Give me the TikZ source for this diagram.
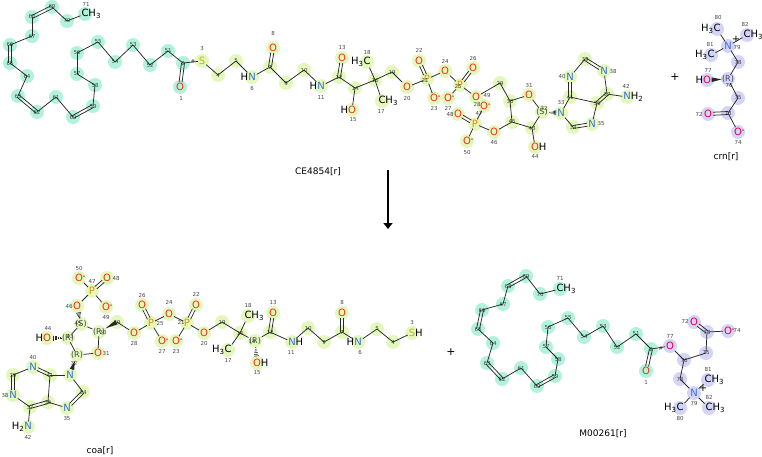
\documentclass[tikz,border=0pt]{standalone}
\usepackage{fontspec}
\setmainfont{DejaVu Sans}
\usetikzlibrary{calc,arrows.meta}
\pgfdeclarelayer{bg}
\pgfsetlayers{bg,main}
\definecolor{ored}{RGB}{240,45,20}
\definecolor{ocrn}{RGB}{225,0,60}
\definecolor{nblue}{RGB}{60,110,210}
\definecolor{porange}{RGB}{230,140,0}
\definecolor{syellow}{RGB}{185,185,0}
\definecolor{hlgreen}{RGB}{228,248,190}
\definecolor{hlaqua}{RGB}{178,242,218}
\definecolor{hllav}{RGB}{212,212,248}
\definecolor{bondc}{RGB}{40,40,40}
\definecolor{numc}{RGB}{70,70,70}
\newcommand\Ox{\textcolor{ored}{O}}
\newcommand\Oc{\textcolor{ocrn}{O}}
\newcommand\Nx{\textcolor{nblue}{N}}
\newcommand\Px{\textcolor{porange}{P}}
\newcommand\Sx{\textcolor{syellow}{S}}
\newcommand\mn{\rlap{\textsuperscript{-}}}
\newcommand\hlc{hlgreen}
\newcommand\catom[4]{\coordinate (#1) at (#2,#3);
  \begin{pgfonlayer}{bg}\fill[fill=\hlc] (#2,#3) circle (7pt);\end{pgfonlayer}
  \node[num] (#1n) at (#2,#3) {#4};}
\newcommand\hatom[7]{\node[atom] (#1) at (#2,#3) {#4};
  \begin{pgfonlayer}{bg}\fill[fill=\hlc] (#2,#3) circle (7pt);\end{pgfonlayer}
  \node[num] (#1n) at (#6,#7) {#5};}
\newcommand\satom[7]{\node[stereo] (#1) at (#2,#3) {#5};
  \begin{pgfonlayer}{bg}\fill[fill=\hlc] (#2,#3) circle (7pt);\end{pgfonlayer}
  \node[num] (#1n) at (#6,#7) {#4};}
\newcommand\dbl[4]{%
  \draw[bond,shorten <=#3,shorten >=#4] ($(#1)!1.5pt!90:(#2)$) -- ($(#2)!1.5pt!-90:(#1)$);
  \draw[bond,shorten <=#3,shorten >=#4] ($(#1)!1.5pt!-90:(#2)$) -- ($(#2)!1.5pt!90:(#1)$);}
\newcommand\hwedge[4]{%
  \foreach \k in {0,...,5}{%
    \pgfmathsetmacro\ff{#3+(#4-#3)*\k/5}%
    \pgfmathsetmacro\ww{0.4+2.1*\k/5}%
    \draw[draw=bondc,line width=0.6pt] ($($(#1)!\ff!(#2)$)!\ww pt!90:(#2)$) -- ($($(#1)!\ff!(#2)$)!\ww pt!-90:(#2)$);
  }}
\newcommand\swedge[4]{%
  \fill[bondc] ($(#1)!#3!(#2)$) -- ($($(#1)!#4!(#2)$)!2.3pt!90:(#1)$) -- ($($(#1)!#4!(#2)$)!2.3pt!-90:(#1)$) -- cycle;}
\tikzset{
  atom/.style={inner sep=0.8pt, font=\fontsize{10}{10}\selectfont},
  num/.style={inner sep=0pt, font=\fontsize{5.5}{6}\selectfont, text=numc},
  stereo/.style={inner sep=0.5pt, font=\fontsize{8}{8}\selectfont, text=numc},
  bond/.style={draw=bondc, line width=0.75pt},
  title/.style={font=\fontsize{9}{10}\selectfont},
  plus/.style={font=\fontsize{11}{11}\selectfont},
}
\begin{document}
\begin{tikzpicture}[x=1pt,y=-1pt]
\useasboundingbox (0,0) rectangle (762,457);
% ================= TOP: CE4854 =================
\renewcommand\hlc{hlaqua}
\hatom{a71}{85}{14}{C\rlap{H\textsubscript{3}}}{71}{86}{4}
\catom{a70}{67}{21}{70}
\catom{a69}{52}{7}{69}
\catom{a68}{32}{17}{68}
\catom{a67}{32}{36}{67}
\catom{a66}{10}{45}{66}
\catom{a65}{10}{63}{65}
\catom{a64}{27}{76}{64}
\catom{a63}{18}{96}{63}
\catom{a62}{37}{112}{62}
\catom{a61}{56}{97}{61}
\catom{a60}{73}{117}{60}
\catom{a59}{93}{106}{59}
\catom{a58}{95}{85}{58}
\catom{a57}{77}{74}{57}
\catom{a56}{77}{53}{56}
\catom{a55}{98}{42}{55}
\catom{a54}{115}{62}{54}
\catom{a53}{133}{45}{53}
\catom{a52}{150}{65}{52}
\catom{a51}{168}{51}{51}
\catom{a2}{183}{63}{2}
\hatom{a1}{180}{87}{\Ox}{1}{181}{98}
\node[num] (ahash) at (193,62) {\#};
\renewcommand\hlc{hlgreen}
\hatom{a3}{202}{61}{\Sx}{3}{202}{49}
\catom{a4}{218}{75}{4}
\catom{a5}{236}{61}{5}
\hatom{a6}{252}{77}{\llap{H}\Nx}{6}{252}{88}
\catom{a7}{270}{67}{7}
\hatom{a8}{273}{48}{\Ox}{8}{273}{34}
\catom{a9}{286}{83}{9}
\catom{a10}{304}{70}{10}
\hatom{a11}{321}{86}{\llap{H}\Nx}{11}{321}{97}
\catom{a12}{339}{77}{12}
\hatom{a13}{342}{58}{\Ox}{13}{342}{47}
\catom{a14}{355}{88}{14}
\hatom{a15}{352}{110}{\llap{H}\Ox}{15}{353}{120}
\catom{a16}{375}{80}{16}
\hatom{a18}{367}{62}{\llap{H\textsubscript{3}}C}{18}{367}{53}
\hatom{a17}{382}{101}{C\rlap{H\textsubscript{3}}}{17}{381}{111}
\catom{a19}{392}{72}{19}
\hatom{a20}{407}{87}{\Ox}{20}{407}{98}
\hatom{a21}{427}{79}{\Px}{21}{425}{80}
\hatom{a22}{419}{61}{\Ox}{22}{419}{50}
\hatom{a23}{434}{98}{\Ox\mn}{23}{434}{108}
\hatom{a24}{445}{71}{\Ox}{24}{445}{61}
\hatom{a25}{460}{85}{\Px}{25}{458}{86}
\hatom{a26}{473}{68}{\Ox}{26}{473}{58}
\hatom{a27}{448}{98}{\Ox\mn}{27}{448}{108}
\hatom{a28}{476}{97}{\Ox}{28}{477}{104}
\hatom{a49}{484}{106}{\Ox\mn}{49}{487}{95}
\catom{a29}{500}{83}{29}
\catom{a30}{510}{101}{30}
\hatom{a31}{529}{95}{\Ox}{31}{529}{85}
\satom{a32}{542}{112}{32}{(S)}{544}{108}
\hatom{a33}{561}{113}{\Nx}{33}{561}{102}
\catom{a34}{573}{127}{34}
\hatom{a35}{592}{124}{\Nx}{35}{601}{123}
\catom{a36}{597}{103}{36}
\catom{a37}{607}{94}{37}
\hatom{a38}{604}{71}{\Nx}{38}{613}{71}
\catom{a39}{585}{59}{39}
\hatom{a40}{570}{77}{\Nx}{40}{562}{76}
\catom{a41}{570}{97}{41}
\hatom{a42}{627}{97}{\Nx\rlap{H\textsubscript{2}}}{42}{626}{86}
\catom{a43}{532}{128}{43}
\hatom{a44}{535}{147}{\Ox\rlap{H}}{44}{535}{156}
\catom{a45}{512}{122}{45}
\hatom{a46}{494}{132}{\Ox}{46}{494}{142}
\hatom{a47}{475}{124}{\Px}{47}{479}{113}
\hatom{a48}{458}{114}{\Ox}{48}{450}{114}
\hatom{a50}{467}{141}{\Ox\mn}{50}{467}{152}
\foreach \u/\v in {a71/a70,a70/a69,a68/a67,a67/a66,a65/a64,a64/a63,a62/a61,a61/a60,a59/a58,a58/a57,a57/a56,a56/a55,a55/a54,a54/a53,a53/a52,a52/a51,a51/a2,a2/a3,a3/a4,a4/a5,a5/a6,a6/a7,a7/a9,a9/a10,a10/a11,a11/a12,a12/a14,a14/a15,a14/a16,a16/a18,a16/a17,a16/a19,a19/a20,a20/a21,a21/a23,a21/a24,a24/a25,a25/a27,a25/a28,a28/a29,a29/a30,a30/a31,a31/a32,a32/a43,a43/a45,a45/a30,a43/a44,a45/a46,a46/a47,a47/a49,a47/a50,a33/a34,a35/a36,a36/a41,a41/a33,a39/a40,a37/a38,a37/a42}
  \draw[bond] (\u) -- (\v);
\dbl{a68}{a69}{0pt}{0pt}
\dbl{a65}{a66}{0pt}{0pt}
\dbl{a62}{a63}{0pt}{0pt}
\dbl{a59}{a60}{0pt}{0pt}
\dbl{a2}{a1}{0pt}{5pt}
\dbl{a7}{a8}{0pt}{5pt}
\dbl{a12}{a13}{0pt}{5pt}
\dbl{a21}{a22}{5pt}{5pt}
\dbl{a25}{a26}{5pt}{5pt}
\dbl{a47}{a48}{5pt}{5pt}
\dbl{a34}{a35}{0pt}{5pt}
\dbl{a36}{a37}{0pt}{0pt}
\dbl{a41}{a40}{0pt}{5pt}
\dbl{a39}{a38}{0pt}{5pt}
\hwedge{a32}{a33}{0.4}{0.72}
% ================= TOP: crn =================
\renewcommand\hlc{hllav}
\hatom{c80}{717}{29}{\llap{H\textsubscript{3}}C}{80}{718}{18}
\hatom{c82}{747}{35}{C\rlap{H\textsubscript{3}}}{82}{745}{25}
\hatom{c79}{728}{46}{\Nx}{79}{737}{47}
\node[atom] (c79p) at (736,39) {+};
\hatom{c81}{711}{55}{\llap{H\textsubscript{3}}C}{81}{710}{45}
\catom{c78}{738}{62}{78}
\satom{c76}{728}{79}{76}{(R)}{729}{85}
\hatom{c77}{707}{80}{\llap{H}\Oc}{77}{708}{70}
\catom{c75}{738}{98}{75}
\catom{c73}{728}{113}{73}
\hatom{c72}{708}{114}{\Oc}{72}{699}{114}
\hatom{c74}{738}{132}{\Oc\mn}{74}{738}{142}
\foreach \u/\v in {c80/c79,c82/c79,c81/c79,c79/c78,c78/c76,c76/c75,c75/c73,c73/c74}
  \draw[bond] (\u) -- (\v);
\dbl{c73}{c72}{0pt}{5pt}
\swedge{c76}{c77}{0.3}{0.78}
% ================= labels / arrow =================
\node[title] (lce) at (318,172) {CE4854[r]};
\node[title] (lcrn) at (726,157) {crn[r]};
\node[plus] (plus1) at (675,77) {+};
\coordinate (arS) at (388,170);
\coordinate (arE) at (388,229);
\draw[line width=2.6pt,-{Triangle[width=9pt,length=6pt]}] (arS) -- (arE);
% ================= BOTTOM: coa =================
\renewcommand\hlc{hlgreen}
\hatom{b50}{79}{278}{\Ox\mn}{50}{79}{268}
\hatom{b48}{107}{278}{\Ox}{48}{116}{278}
\hatom{b47}{92}{291}{\Px}{47}{92}{281}
\hatom{b46}{77}{306}{\Ox}{46}{69}{306}
\hatom{b49}{106}{307}{\Ox\mn}{49}{106}{317}
\satom{b45}{81}{324}{45}{(S)}{78}{324}
\satom{b30}{99}{332}{30}{(R)}{103}{332}
\catom{b29}{117}{322}{29}
\hatom{b28}{134}{333}{\Ox}{28}{134}{343}
\satom{b43}{68}{338}{43}{(R)}{70}{336}
\hatom{b44}{47}{338}{\llap{H}\Ox}{44}{48}{328}
\hatom{b31}{98}{353}{\Ox}{31}{106}{353}
\satom{b32}{77}{355}{32}{(R)}{74}{363}
\node[atom] (b33) at (70,375) {\Nx};
\begin{pgfonlayer}{bg}\fill[fill=\hlc] (70,375) circle (7pt);\end{pgfonlayer}
\catom{b34}{83}{392}{34}
\hatom{b35}{67}{408}{\Nx}{35}{67}{418}
\catom{b36}{48}{402}{36}
\catom{b41}{50}{375}{41}
\hatom{b40}{33}{367}{\Nx}{40}{33}{357}
\catom{b39}{13}{375}{39}
\hatom{b38}{13}{395}{\Nx}{38}{5}{395}
\catom{b37}{30}{407}{37}
\hatom{b42}{28}{427}{\llap{H\textsubscript{2}}\Nx}{42}{28}{437}
\hatom{b25}{151}{323}{\Px}{25}{160}{323}
\hatom{b26}{142}{305}{\Ox}{26}{142}{295}
\hatom{b27}{162}{341}{\Ox\mn}{27}{162}{351}
\hatom{b24}{169}{314}{\Ox}{24}{169}{302}
\hatom{b21}{187}{323}{\Px}{21}{181}{322}
\hatom{b22}{196}{305}{\Ox}{22}{196}{294}
\hatom{b23}{176}{341}{\Ox\mn}{23}{176}{351}
\hatom{b20}{204}{333}{\Ox}{20}{204}{343}
\catom{b19}{222}{322}{19}
\catom{b16}{240}{333}{16}
\hatom{b18}{248}{316}{C\rlap{H\textsubscript{3}}}{18}{248}{305}
\hatom{b17}{228}{350}{\llap{H\textsubscript{3}}C}{17}{228}{360}
\satom{b14}{255}{341}{14}{(R)}{252}{341}
\hatom{b15}{257}{363}{\Ox\rlap{H}}{15}{257}{373}
\catom{b12}{270}{332}{12}
\hatom{b13}{273}{313}{\Ox}{13}{273}{302}
\hatom{b11}{292}{342}{\Nx\rlap{H}}{11}{291}{352}
\catom{b10}{308}{328}{10}
\catom{b9}{324}{342}{9}
\catom{b7}{342}{332}{7}
\hatom{b8}{342}{313}{\Ox}{8}{342}{302}
\hatom{b6}{358}{342}{\llap{H}\Nx}{6}{360}{352}
\catom{b5}{377}{329}{5}
\catom{b4}{393}{342}{4}
\hatom{b3}{412}{333}{\Sx\rlap{H}}{3}{412}{322}
\foreach \u/\v in {b47/b50,b47/b46,b47/b49,b45/b30,b45/b43,b43/b32,b32/b31,b31/b30,b29/b28,b28/b25,b25/b27,b25/b24,b24/b21,b21/b23,b21/b20,b20/b19,b19/b16,b16/b18,b16/b17,b16/b14,b14/b12,b12/b11,b11/b10,b10/b9,b9/b7,b7/b6,b6/b5,b5/b4,b4/b3,b33/b34,b35/b36,b36/b41,b41/b33,b39/b40,b37/b38,b37/b42}
  \draw[bond] (\u) -- (\v);
\dbl{b47}{b48}{5pt}{5pt}
\dbl{b25}{b26}{5pt}{5pt}
\dbl{b21}{b22}{5pt}{5pt}
\dbl{b12}{b13}{0pt}{5pt}
\dbl{b7}{b8}{0pt}{5pt}
\dbl{b34}{b35}{0pt}{5pt}
\dbl{b36}{b37}{0pt}{0pt}
\dbl{b41}{b40}{0pt}{5pt}
\dbl{b39}{b38}{0pt}{5pt}
\swedge{b30}{b29}{0.35}{0.97}
\hwedge{b45}{b46}{0.3}{0.62}
\hwedge{b43}{b44}{0.3}{0.7}
\swedge{b32}{b33}{0.3}{0.72}
\hwedge{b14}{b15}{0.3}{0.68}
\node[title] (lcoa) at (100,451) {coa[r]};
\node[plus] (plus2) at (451,352) {+};
% ================= BOTTOM: M00261 =================
\renewcommand\hlc{hlaqua}
\hatom{m71}{560}{289}{C\rlap{H\textsubscript{3}}}{71}{560}{278}
\catom{m70}{540}{294}{70}
\catom{m69}{526}{276}{69}
\catom{m68}{508}{286}{68}
\catom{m67}{503}{304}{67}
\catom{m66}{482}{310}{66}
\catom{m65}{478}{329}{65}
\catom{m64}{493}{343}{64}
\catom{m63}{487}{363}{63}
\catom{m62}{502}{379}{62}
\catom{m61}{521}{368}{61}
\catom{m60}{537}{386}{60}
\catom{m59}{555}{376}{59}
\catom{m58}{558}{359}{58}
\catom{m57}{546}{347}{57}
\catom{m56}{548}{327}{56}
\catom{m55}{568}{318}{55}
\catom{m54}{584}{337}{54}
\catom{m53}{603}{326}{53}
\catom{m52}{617}{347}{52}
\catom{m51}{636}{334}{51}
\catom{m2}{651}{349}{2}
\hatom{m1}{646}{371}{\Ox}{1}{646}{382}
\node[num] (mhash) at (661,349) {\#};
\renewcommand\hlc{hllav}
\hatom{m77}{670}{346}{\Oc}{77}{670}{336}
\catom{m76}{684}{360}{76}
\catom{m78}{680}{379}{78}
\hatom{m79}{694}{393}{\Nx}{79}{694}{403}
\node[atom] (m79p) at (703,388) {+};
\hatom{m80}{680}{408}{\llap{H\textsubscript{3}}C}{80}{680}{418}
\hatom{m81}{708}{380}{C\rlap{H\textsubscript{3}}}{81}{708}{369}
\hatom{m82}{709}{408}{C\rlap{H\textsubscript{3}}}{82}{709}{397}
\catom{m75}{706}{353}{75}
\catom{m73}{707}{332}{73}
\hatom{m72}{694}{322}{\Oc}{72}{685}{321}
\hatom{m74}{728}{331}{\Oc\mn}{74}{737}{330}
\foreach \u/\v in {m71/m70,m70/m69,m68/m67,m67/m66,m65/m64,m64/m63,m62/m61,m61/m60,m59/m58,m58/m57,m57/m56,m56/m55,m55/m54,m54/m53,m53/m52,m52/m51,m51/m2,m2/m77,m77/m76,m76/m78,m78/m79,m79/m80,m79/m81,m79/m82,m76/m75,m75/m73,m73/m74}
  \draw[bond] (\u) -- (\v);
\dbl{m68}{m69}{0pt}{0pt}
\dbl{m65}{m66}{0pt}{0pt}
\dbl{m62}{m63}{0pt}{0pt}
\dbl{m59}{m60}{0pt}{0pt}
\dbl{m2}{m1}{0pt}{5pt}
\dbl{m73}{m72}{0pt}{5pt}
\node[title] (lm) at (603,434) {M00261[r]};
\end{tikzpicture}
\end{document}
